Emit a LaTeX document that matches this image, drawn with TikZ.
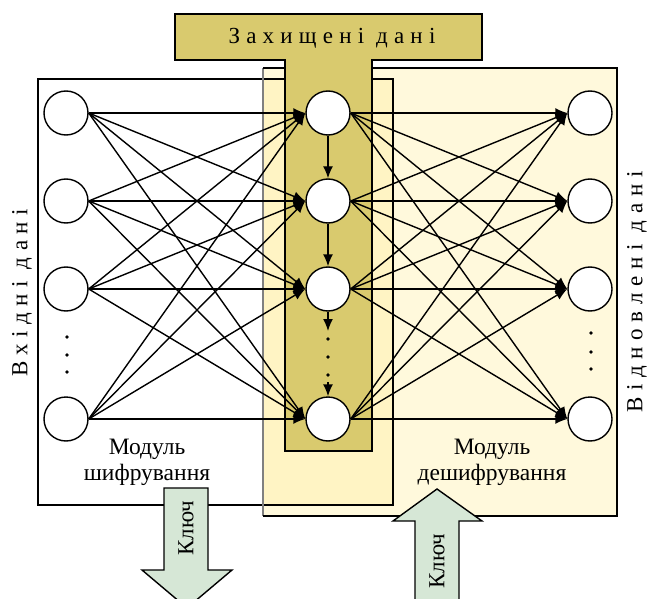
\documentclass[tikz,border=0pt]{standalone}
\usepackage{fontspec}
\setmainfont{Liberation Serif}
\usetikzlibrary{arrows.meta}
\definecolor{tcol}{HTML}{D9CA6E}
\definecolor{rbox}{HTML}{FFF9DC}
\definecolor{ovl}{HTML}{FFF4C4}
\definecolor{keyc}{HTML}{D6E7D6}
\begin{document}
\begin{tikzpicture}[x=1pt,y=-1pt,
  neuron/.style={circle,draw,fill=white,minimum size=44pt,inner sep=0pt,line width=1.4pt},
  conn/.style={line width=1.4pt,-{Latex[length=12pt,width=10pt]}},
  dotc/.style={circle,fill=black,inner sep=0pt,minimum size=3.8pt},
  lbl/.style={font=\fontsize{23}{27}\selectfont},
  modlbl/.style={font=\fontsize{23.5}{26}\selectfont,align=center},
  keylbl/.style={font=\fontsize{23}{26}\selectfont,rotate=90},
  keyarrow/.style={fill=keyc,draw=black,line width=1.4pt}]
\useasboundingbox (0,0) rectangle (648,599);
\clip (0,0) rectangle (648,599);
% module boxes
\fill[rbox] (263,68) rectangle (617,516);
\fill[ovl] (263,79) rectangle (393,505);
\draw[line width=1.3pt] (38,79) rectangle (393,505);
\draw[black!50,line width=1.3pt] (263,68) -- (263,516);
\draw[line width=1.3pt] (263,516) -- (617,516) -- (617,68) -- (263,68);
% T shape
\filldraw[fill=tcol,line width=1.6pt] (175,14) -- (482,14) -- (482,60) -- (372,60) -- (372,451) -- (285,451) -- (285,60) -- (175,60) -- cycle;
\node[lbl] (title) at (332,38) {\addfontfeature{LetterSpace=27}Захищені дані};
% neurons
\foreach \n/\y in {1/113,2/201,3/289,4/419}{
  \node[neuron] (l\n) at (66,\y) {};
  \node[neuron] (m\n) at (328,\y) {};
  \node[neuron] (r\n) at (590,\y) {};
}
\foreach \k/\y in {1/337,2/355,3/372}{\node[dotc] (ld\k) at (67,\y) {};}
\foreach \k/\y in {1/339,2/357,3/375}{\node[dotc] (md\k) at (328,\y) {};}
\foreach \k/\y in {1/333,2/352,3/369}{\node[dotc] (rd\k) at (591,\y) {};}
% connectors
\foreach \i in {1,...,4}{
  \foreach \j in {1,...,4}{
    \draw[conn] (l\i.east) -- (m\j.west);
    \draw[conn] (m\i.east) -- (r\j.west);
  }
}
\coordinate (ma) at (328,331);
\coordinate (mb) at (328,382);
\draw[conn] (m1.south) -- (m2.north);
\draw[conn] (m2.south) -- (m3.north);
\draw[conn] (m3.south) -- (ma);
\draw[conn] (mb) -- (m4.north);
% labels
\node[lbl,rotate=90] (inl) at (22,293) {\addfontfeature{LetterSpace=28}Вхідні дані};
\node[lbl,rotate=90] (outl) at (637,292) {\addfontfeature{LetterSpace=29}Відновлені дані};
\node[modlbl] (enc) at (147,462) {Модуль\\шифрування};
\node[modlbl] (dec) at (492,462) {Модуль\\дешифрування};
% key arrows
\draw[keyarrow] (164,488) -- (208,488) -- (208,570) -- (232,570) -- (187,608) -- (142,570) -- (164,570) -- cycle;
\draw[keyarrow] (437,489) -- (482,521) -- (459,521) -- (459,620) -- (415,620) -- (415,521) -- (393,521) -- cycle;
\node[keylbl] (k1) at (186,528) {Ключ};
\node[keylbl] (k2) at (437,561) {Ключ};
\end{tikzpicture}
\end{document}
